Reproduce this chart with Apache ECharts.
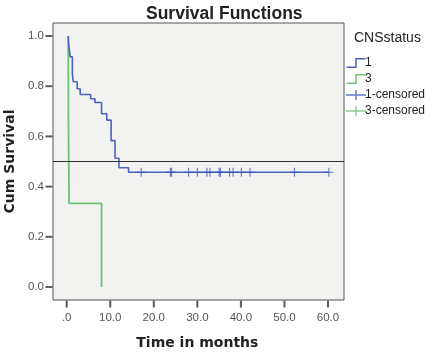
<!DOCTYPE html>
<html>
<head>
<meta charset="utf-8">
<script src="https://cdn.jsdelivr.net/npm/echarts@6/dist/echarts.min.js"></script>
<style>
  html, body { margin: 0; padding: 0; background: #fff; }
  #container { width: 435px; height: 352px; }
</style>
</head>
<body>
<div id="container"></div>
<script>
// group 1 (step curve: time, survival after the event)
var blueTimes = [0.35, 0.45, 0.8, 1.3, 1.5, 2.4, 3.1, 5.5, 6.5, 8.0, 9.2, 10.2, 11.1, 12.0, 14.2, 60.2];
var blueSurv = [1.0, 0.967, 0.917, 0.85, 0.818, 0.79, 0.767, 0.75, 0.735, 0.69, 0.665, 0.583, 0.513, 0.475, 0.457, 0.457];
// group 3
var greenTimes = [0.35, 0.4, 0.55, 8.0];
var greenSurv = [1.0, 0.667, 0.333, 0.0];
// censored cases
var blueCensTimes = [17.1, 23.8, 24.1, 28.0, 30.0, 32.2, 32.9, 35.0, 35.3, 37.4, 38.2, 40.1, 42.1, 52.3, 60.2];
var blueCensSurv = 0.457;
var greenCensTimes = [];
var refLine = 0.5;
// tick values
var xTicks = [0, 10, 20, 30, 40, 50, 60];
var yTicks = [0, 0.2, 0.4, 0.6, 0.8, 1.0];
// frame edges in data units (frame is a bit wider than the data range)
var xFrameMin = -3.146;
var yFrameMin = -0.052;

var blue = '#4a62c0';
var green = '#6cc47a';
var plusPath = 'path://M4.4,0h1.2v4.4h4.4v1.2h-4.4v4.4h-1.2v-4.4h-4.4v-1.2h4.4z';
var plusIcon = 'path://M0,4.3H20V5.7H0Z M9.3,0H10.7V10H9.3Z';
var stepPath = 'path://M0,9H9.2V0H20V1.6H10.8V10.6H0Z';
var barPath = 'path://M0,0H10V10H0Z';

function pairs(xs, ys) {
	return xs.map(function (x, i) { return [x, Array.isArray(ys) ? ys[i] : ys]; });
}
function pairsY(x, ys) {
	return ys.map(function (y) { return [x, y]; });
}

var labelFont = { fontFamily: 'Liberation Sans', fontSize: 11.5, color: '#555' };
var nameFont = { fontFamily: 'DejaVu Sans', fontWeight: 'bold', fontSize: 14, color: '#222' };

var myChart = echarts.init(document.getElementById('container'));
var option = {
	animation: false,
	backgroundColor: '#fff',
	title: {
		text: 'Survival Functions',
		left: 141, top: 0,
		textStyle: { fontFamily: 'Liberation Sans', fontWeight: 'bold', fontSize: 17.5, color: '#222' }
	},
	legend: {
		orient: 'vertical',
		left: 341, top: 52,
		itemWidth: 20, itemHeight: 10, itemGap: 4,
		textStyle: { fontFamily: 'Liberation Sans', fontSize: 12, color: '#222', padding: [0, 0, 0, -6] },
		data: [
			{ name: '1', icon: stepPath },
			{ name: '3', icon: stepPath },
			{ name: '1-censored', icon: plusIcon },
			{ name: '3-censored', icon: plusIcon }
		]
	},
	graphic: [{
		type: 'text', left: 354, top: 31,
		style: { text: 'CNSstatus', fontFamily: 'Liberation Sans', fontSize: 14, fill: '#222' }
	}],
	grid: [
		// data area: 0..60 months, 0..1 survival
		{ left: 66.7, right: 107, top: 36, bottom: 65, outerBoundsMode: 'none', containLabel: false },
		// plot frame
		{
			left: 53, right: 91, top: 23, bottom: 52, outerBoundsMode: 'none', containLabel: false,
			show: true, backgroundColor: '#f2f2f1', borderColor: '#555', borderWidth: 1, z: 0
		}
	],
	xAxis: [
		{
			gridIndex: 0, type: 'value', min: 0, max: 60, interval: 10, offset: 13,
			name: 'Time in months', nameLocation: 'middle', nameGap: 36, nameTextStyle: nameFont,
			axisLine: { show: false, onZero: false },
			splitLine: { show: false },
			axisTick: { show: false },
			axisLabel: Object.assign({ margin: 12, formatter: function (v) { return v === 0 ? '.0' : v.toFixed(1); } }, labelFont)
		},
		{ gridIndex: 1, type: 'value', min: 0, max: 1, show: false }
	],
	yAxis: [
		{
			gridIndex: 0, type: 'value', min: 0, max: 1, interval: 0.2, offset: 13.7,
			name: 'Cum Survival', nameLocation: 'middle', nameGap: 11, nameTextStyle: nameFont,
			axisLine: { show: false, onZero: false },
			splitLine: { show: false },
			axisTick: { show: false },
			axisLabel: Object.assign({ margin: 9, formatter: function (v) { return v.toFixed(1); } }, labelFont)
		},
		{ gridIndex: 1, type: 'value', min: -0.052, max: 1.052, show: false }
	],
	series: [
		{
			name: 'ref', type: 'line', xAxisIndex: 1, yAxisIndex: 1, data: [], silent: true,
			markLine: {
				silent: true, symbol: 'none', label: { show: false },
				lineStyle: { color: '#333', width: 1.2, type: 'solid' },
				data: [{ yAxis: refLine }]
			}
		},
		// tick marks, hung on the frame edges
		{
			name: 'xticks', type: 'scatter', silent: true, clip: false, z: 5,
			symbol: barPath, symbolSize: [2, 7], symbolOffset: [0, 4],
			itemStyle: { color: '#333' },
			data: pairs(xTicks, yFrameMin)
		},
		{
			name: 'yticks', type: 'scatter', silent: true, clip: false, z: 5,
			symbol: barPath, symbolSize: [7, 2], symbolOffset: [-4, 0],
			itemStyle: { color: '#333' },
			data: pairsY(xFrameMin, yTicks)
		},
		{
			name: '1', type: 'line', step: 'end', showSymbol: false, z: 3, clip: false,
			color: blue, lineStyle: { color: blue, width: 1.6 },
			data: pairs(blueTimes, blueSurv)
		},
		{
			name: '3', type: 'line', step: 'end', showSymbol: false, z: 2, clip: false,
			color: green, lineStyle: { color: green, width: 1.8 },
			data: pairs(greenTimes, greenSurv)
		},
		{
			name: '1-censored', type: 'scatter', symbol: plusPath, symbolSize: [9, 9], z: 4, clip: false,
			color: blue, itemStyle: { color: '#3f56b8' },
			data: pairs(blueCensTimes, blueCensSurv)
		},
		{
			name: '3-censored', type: 'scatter', symbol: plusPath, symbolSize: [9, 9], z: 4, clip: false,
			color: green, itemStyle: { color: green },
			data: pairs(greenCensTimes, 0)
		}
	]
};
myChart.setOption(option);
</script>
</body>
</html>
